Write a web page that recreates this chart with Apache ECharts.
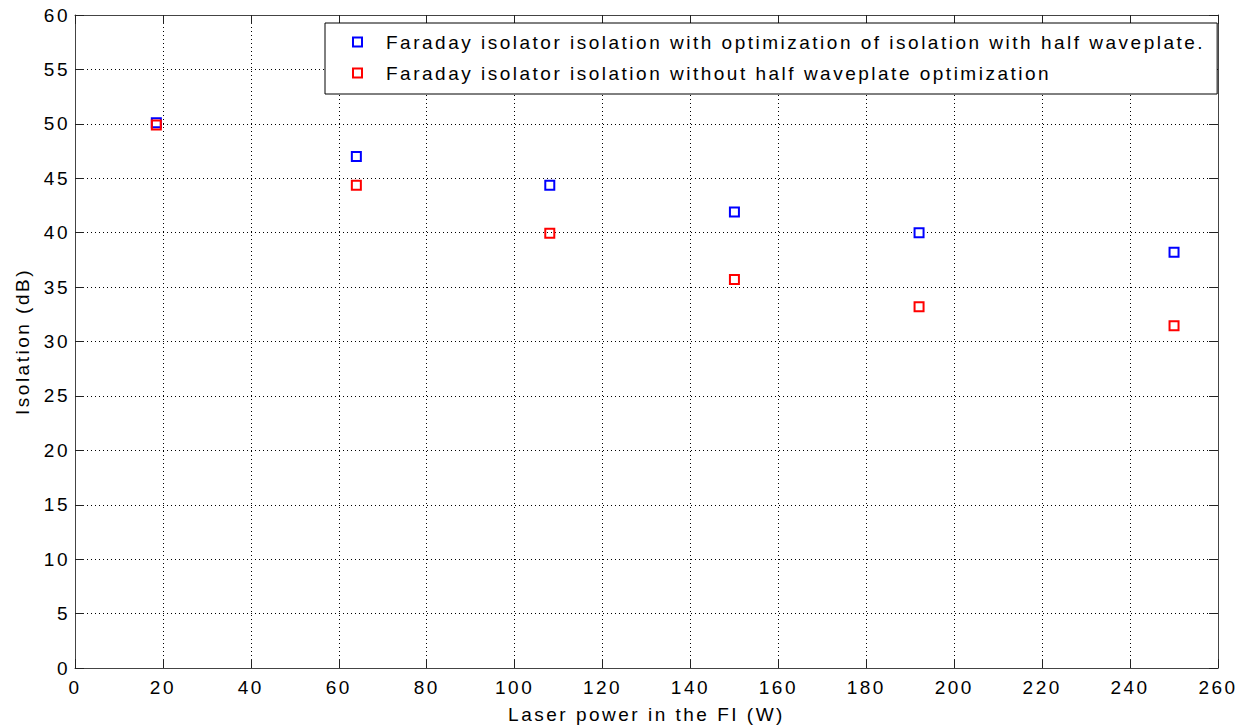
<!DOCTYPE html>
<html>
<head>
<meta charset="utf-8">
<script src="https://cdn.jsdelivr.net/npm/echarts@6/dist/echarts.min.js"></script>
<style>
  html, body { margin: 0; padding: 0; background: #fff; }
  #chart { width: 1241px; height: 726px; }
  /* wide, loosely tracked lettering for every label */
  #chart svg text { letter-spacing: 2.5px !important; }
</style>
</head>
<body>
<div id="chart"></div>
<script>
// Laser power through the Faraday isolator (W)
const power = [18.5, 64, 108, 150, 192, 250];
// Isolation with half-waveplate optimization (dB)
const isolationOptimized = [50.1, 47.0, 44.35, 41.9, 40.0, 38.2];
// Isolation without half-waveplate optimization (dB)
const isolationPlain = [49.9, 44.35, 39.95, 35.7, 33.2, 31.45];

const seriesNames = [
  'Faraday isolator isolation with optimization of isolation with half waveplate.',
  'Faraday isolator isolation without half waveplate optimization'
];
const seriesColors = ['#0000ff', '#ff0000'];

const FONT = 'Liberation Sans, Arial, sans-serif';
const FONT_SIZE = 19;
const TRACKING = 2.5;

function pairs(xs, ys) {
  return xs.map((x, i) => [x, ys[i]]);
}

// Extra width the tracked legend text needs beyond what the layout measures
function trackingExtra(texts) {
  const longest = Math.max(...texts.map(t => t.length));
  return longest * TRACKING;
}
const legendExtra = trackingExtra(seriesNames);

const gridLine = { show: true, lineStyle: { color: '#000', width: 1, type: [1, 3] } };
const axisLine = { show: true, onZero: false, lineStyle: { color: '#444', width: 1 } };
const tick = { show: true, inside: true, length: 9, lineStyle: { color: '#222' } };

const chart = echarts.init(document.getElementById('chart'), null, { renderer: 'svg' });

chart.setOption({
  animation: false,
  backgroundColor: '#fff',
  textStyle: { fontFamily: FONT },
  grid: { left: 75, top: 15, right: 23, bottom: 58, show: false, containLabel: false, outerBoundsMode: 'none' },
  legend: {
    orient: 'vertical',
    left: 325,
    top: 23,
    padding: [9, 12 + legendExtra, 11, 27],
    itemGap: 11,
    itemWidth: 9,
    itemHeight: 9,
    backgroundColor: '#fff',
    borderColor: '#000',
    borderWidth: 1,
    borderRadius: 0,
    icon: 'rect',
    textStyle: { fontSize: FONT_SIZE, color: '#000', fontFamily: FONT, lineHeight: 20, padding: [0, 0, 0, 19] },
    data: seriesNames.map((n, i) => ({
      name: n,
      itemStyle: { color: '#fff', borderColor: seriesColors[i], borderWidth: 2 }
    }))
  },
  xAxis: [
    {
      type: 'value', min: 0, max: 260, interval: 20,
      name: 'Laser power in the FI (W)', nameLocation: 'middle', nameGap: 37,
      nameTextStyle: { fontSize: FONT_SIZE, color: '#000', fontFamily: FONT },
      axisLine: axisLine, axisTick: tick,
      axisLabel: { fontSize: FONT_SIZE, color: '#000', margin: 10, fontFamily: FONT },
      splitLine: gridLine
    },
    {
      type: 'value', min: 0, max: 260, interval: 20, position: 'top',
      axisLine: axisLine, axisTick: tick, axisLabel: { show: false }, splitLine: { show: false }
    }
  ],
  yAxis: [
    {
      type: 'value', min: 0, max: 60, interval: 5,
      name: 'Isolation (dB)', nameLocation: 'middle', nameGap: 43,
      nameTextStyle: { fontSize: FONT_SIZE, color: '#000', fontFamily: FONT },
      axisLine: axisLine, axisTick: tick,
      axisLabel: { fontSize: FONT_SIZE, color: '#000', margin: 5, fontFamily: FONT },
      splitLine: gridLine
    },
    {
      type: 'value', min: 0, max: 60, interval: 5, position: 'right',
      axisLine: axisLine, axisTick: tick, axisLabel: { show: false }, splitLine: { show: false }
    }
  ],
  series: [
    {
      name: seriesNames[0], type: 'scatter', symbol: 'rect', symbolSize: 9,
      itemStyle: { color: '#fff', borderColor: seriesColors[0], borderWidth: 2, opacity: 1 },
      data: pairs(power, isolationOptimized), z: 3
    },
    {
      name: seriesNames[1], type: 'scatter', symbol: 'rect', symbolSize: 9,
      itemStyle: { color: 'rgba(255,255,255,0)', borderColor: seriesColors[1], borderWidth: 2, opacity: 1 },
      data: pairs(power, isolationPlain), z: 4
    }
  ]
});
</script>
</body>
</html>
